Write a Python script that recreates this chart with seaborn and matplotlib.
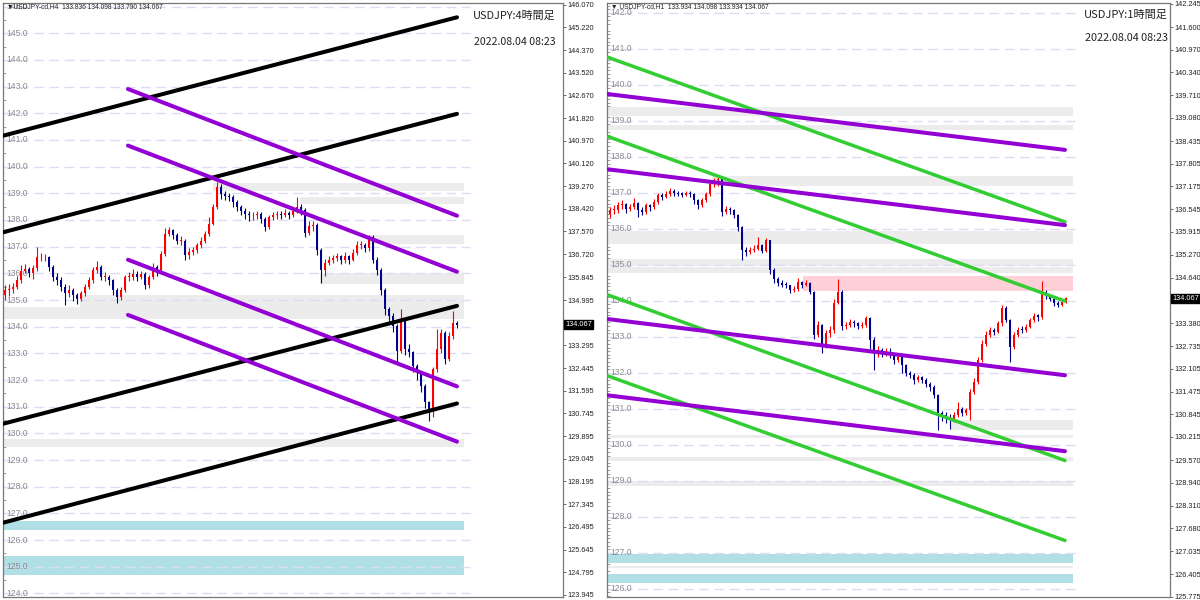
import numpy as np
import pandas as pd
import matplotlib
matplotlib.use("Agg")
import matplotlib.pyplot as plt
from matplotlib.ticker import MultipleLocator
import seaborn as sns

# ---------------- data : left panel (USDJPY H4) ----------------
L_first_open = 135.20
L_close = [
    135.37, 135.43, 135.50, 135.74, 136.10, 136.18, 136.00, 136.20, 136.60, 136.60,
    136.60, 136.24, 135.87, 135.75, 135.50, 135.25, 135.37, 135.18, 135.05, 135.25,
    135.50, 135.74, 136.11, 136.24, 135.87, 135.87, 135.74, 135.37, 135.12, 135.37,
    135.87, 135.87, 135.99, 135.87, 135.99, 135.56, 135.87, 136.24, 136.11, 136.74,
    137.48, 137.61, 137.42, 137.23, 137.23, 136.67, 136.80, 136.86, 137.05, 137.23,
    137.48, 137.86, 138.48, 139.22, 138.97, 138.91, 138.85, 138.66, 138.48, 138.35,
    138.23, 138.17, 138.17, 138.23, 138.04, 137.73, 138.10, 138.17, 138.23, 138.19,
    138.25, 138.19, 138.32, 138.50, 138.38, 137.51, 137.76, 137.82, 136.88, 136.14,
    136.39, 136.51, 136.57, 136.64, 136.51, 136.64, 136.51, 136.76, 137.07, 137.07,
    136.95, 137.38, 136.51, 136.14, 135.39, 134.65, 134.40, 134.02, 133.09, 134.20,
    133.15, 133.05, 132.53, 132.29, 131.79, 131.16, 130.85, 132.41, 133.15, 133.77,
    132.78, 133.65, 134.15, 134.07]
L_high = [
    135.55, 135.60, 135.62, 135.90, 136.30, 136.35, 136.25, 136.30, 137.00, 136.75,
    136.72, 136.65, 136.30, 136.00, 135.85, 135.60, 135.55, 135.45, 135.25, 135.35,
    135.60, 135.85, 136.25, 136.45, 136.30, 136.05, 135.95, 135.80, 135.45, 135.50,
    135.95, 136.05, 136.15, 136.10, 136.10, 136.05, 135.95, 136.40, 136.30, 136.85,
    137.70, 137.75, 137.68, 137.50, 137.40, 137.30, 136.95, 137.00, 137.15, 137.35,
    137.60, 138.10, 138.60, 139.42, 139.35, 139.10, 139.00, 138.95, 138.75, 138.55,
    138.45, 138.35, 138.30, 138.35, 138.30, 138.10, 138.20, 138.30, 138.35, 138.35,
    138.40, 138.35, 138.45, 138.87, 138.60, 138.45, 137.95, 137.95, 137.90, 136.95,
    136.55, 136.65, 136.70, 136.75, 136.70, 136.80, 136.70, 136.90, 137.20, 137.20,
    137.15, 137.45, 137.45, 136.60, 136.20, 135.45, 134.75, 134.50, 134.10, 134.65,
    134.30, 133.35, 133.10, 132.60, 132.35, 131.85, 131.20, 132.50, 133.90, 133.90,
    133.85, 133.80, 134.58, 134.20]
L_low = [
    135.00, 135.15, 135.28, 135.40, 135.65, 136.00, 135.85, 135.80, 136.10, 136.45,
    136.48, 136.10, 135.70, 135.55, 135.35, 134.80, 135.10, 134.95, 134.85, 134.95,
    135.15, 135.40, 135.65, 136.00, 135.75, 135.70, 135.55, 135.20, 134.90, 135.00,
    135.30, 135.70, 135.75, 135.70, 135.80, 135.40, 135.45, 135.80, 135.90, 136.05,
    136.65, 137.40, 137.30, 137.10, 137.05, 136.50, 136.55, 136.70, 136.75, 136.95,
    137.15, 137.40, 137.80, 138.40, 138.80, 138.75, 138.70, 138.50, 138.35, 138.20,
    138.05, 137.95, 138.00, 138.05, 137.90, 137.60, 137.65, 138.00, 138.05, 138.05,
    138.10, 138.05, 138.10, 138.25, 138.20, 137.35, 137.45, 137.60, 136.70, 135.64,
    135.90, 136.30, 136.40, 136.45, 136.35, 136.40, 136.35, 136.45, 136.70, 136.90,
    136.80, 136.85, 136.40, 135.95, 135.20, 134.45, 134.20, 133.80, 132.66, 133.00,
    132.95, 132.85, 132.30, 132.00, 131.55, 130.95, 130.48, 130.60, 132.30, 133.00,
    132.60, 132.70, 133.55, 133.95]

# zones (price low, price high, first bar, colour name)
L_band_lo = [139.10, 138.60, 137.10, 135.60, 134.75, 134.29, 129.49, 126.38, 124.69]
L_band_hi = [139.40, 138.87, 137.45, 136.00, 135.20, 134.73, 129.79, 126.72, 125.41]
L_band_start = [52, 73.75, 90.75, 78.75, 18.75, -0.5, -0.5, -0.5, -0.5]
L_band_kind = ["grey", "grey", "grey", "grey", "grey", "grey", "grey", "cyan", "cyan"]
L_band_end = 114.75

# trend lines (bar index / price at both ends)
L_line_x0 = [-1.25, -1.25, -1.25, -1.25, 30.75, 30.75, 30.75, 30.75]
L_line_x1 = [113, 113, 113, 113, 113, 113, 113, 113]
L_line_p0 = [141.13, 137.51, 130.33, 126.62, 142.91, 140.79, 136.51, 134.44]
L_line_p1 = [145.60, 141.98, 134.78, 131.12, 138.16, 136.06, 131.76, 129.69]
L_line_kind = ["black", "black", "black", "black", "purple", "purple", "purple", "purple"]

L_round_levels = list(range(124, 147))
L_axis_labels = ["146.070", "145.220", "144.370", "143.520", "142.670", "141.820",
                 "140.970", "140.120", "139.270", "138.420", "137.570", "136.720",
                 "135.845", "134.995", "133.295", "132.445", "131.595", "130.745",
                 "129.895", "129.045", "128.195", "127.345", "126.495", "125.645",
                 "124.795", "123.945"]

# ---------------- data : right panel (USDJPY H1) ----------------
R_first_open = 136.40
R_close = [
    136.51, 136.53, 136.65, 136.69, 136.56, 136.60, 136.71, 136.51, 136.46, 136.65,
    136.60, 136.74, 136.93, 136.88, 136.97, 137.06, 136.99, 136.97, 136.95, 136.99,
    136.97, 136.79, 136.65, 136.79, 136.97, 137.25, 137.34, 137.39, 136.46, 136.56,
    136.51, 136.37, 136.05, 135.40, 135.35, 135.42, 135.44, 135.54, 135.38, 135.68,
    134.84, 134.61, 134.49, 134.45, 134.43, 134.29, 134.33, 134.52, 134.43, 134.49,
    134.24, 133.05, 133.32, 132.75, 133.10, 133.20, 133.95, 134.25, 133.30, 133.32,
    133.42, 133.37, 133.30, 133.32, 133.51, 132.91, 132.54, 132.63, 132.54, 132.58,
    132.49, 132.35, 132.44, 132.21, 131.98, 131.94, 131.80, 131.89, 131.80, 131.69,
    131.61, 131.38, 130.87, 130.82, 130.78, 130.69, 130.82, 131.00, 130.87, 130.96,
    131.47, 131.75, 132.35, 132.81, 133.05, 133.19, 133.14, 133.37, 133.79, 133.46,
    132.72, 133.05, 133.20, 133.19, 133.28, 133.46, 133.57, 133.56, 134.25, 134.16,
    134.06, 133.93, 133.88, 133.97, 134.07]
R_high = [
    136.60, 136.65, 136.75, 136.80, 136.72, 136.70, 136.85, 136.75, 136.60, 136.72,
    136.70, 136.82, 137.00, 137.00, 137.05, 137.12, 137.10, 137.05, 137.03, 137.05,
    137.05, 137.00, 136.82, 136.85, 137.02, 137.35, 137.42, 137.48, 137.42, 136.62,
    136.60, 136.55, 136.40, 136.08, 135.50, 135.50, 135.55, 135.77, 135.58, 135.75,
    135.70, 134.90, 134.65, 134.58, 134.52, 134.45, 134.40, 134.62, 134.55, 134.58,
    134.52, 134.28, 133.45, 133.35, 133.20, 133.30, 134.05, 134.61, 134.30, 133.42,
    133.50, 133.46, 133.40, 133.40, 133.58, 133.55, 133.00, 132.75, 132.70, 132.68,
    132.68, 132.55, 132.52, 132.50, 132.25, 132.05, 131.98, 131.95, 131.92, 131.85,
    131.75, 131.65, 131.42, 130.95, 130.90, 130.85, 130.90, 131.18, 131.05, 131.02,
    131.55, 131.85, 132.45, 132.90, 133.15, 133.28, 133.25, 133.45, 133.88, 133.85,
    133.50, 133.12, 133.28, 133.30, 133.35, 133.52, 133.65, 133.62, 134.56, 134.30,
    134.20, 134.10, 134.00, 134.05, 134.10]
R_low = [
    136.30, 136.40, 136.45, 136.55, 136.45, 136.48, 136.55, 136.32, 136.38, 136.40,
    136.50, 136.55, 136.70, 136.80, 136.85, 136.92, 136.92, 136.90, 136.88, 136.90,
    136.88, 136.70, 136.56, 136.60, 136.75, 136.90, 137.15, 137.20, 136.35, 136.40,
    136.42, 136.30, 135.95, 135.12, 135.25, 135.30, 135.35, 135.40, 135.32, 135.35,
    134.75, 134.50, 134.40, 134.38, 134.35, 134.22, 134.25, 134.28, 134.35, 134.40,
    134.18, 132.95, 133.00, 132.55, 132.70, 133.00, 133.10, 133.90, 133.20, 133.22,
    133.28, 133.28, 133.22, 133.24, 133.28, 132.65, 132.07, 132.45, 132.45, 132.46,
    132.40, 132.25, 132.30, 132.00, 131.90, 131.85, 131.70, 131.75, 131.72, 131.60,
    131.50, 131.30, 130.41, 130.65, 130.60, 130.45, 130.62, 130.78, 130.80, 130.82,
    130.70, 131.40, 131.70, 132.30, 132.75, 133.00, 133.05, 133.10, 133.30, 133.40,
    132.31, 132.65, 133.00, 133.10, 133.12, 133.25, 133.40, 133.45, 133.50, 134.05,
    133.98, 133.85, 133.82, 133.85, 133.93]

R_band_lo = [139.14, 138.74, 137.19, 135.57, 134.96, 134.76, 134.27, 130.42, 130.19,
             129.55, 128.85, 126.71, 126.57, 126.17]
R_band_hi = [139.37, 138.88, 137.46, 135.94, 135.16, 134.93, 134.69, 130.68, 130.26,
             129.66, 128.99, 126.97, 126.64, 126.42]
R_band_start = [-0.5, -0.5, 25.5, -0.5, -0.5, -0.5, 48.25, 85, -0.5, -0.5, -0.5, -0.5,
                -0.5, -0.5]
R_band_kind = ["grey", "grey", "grey", "grey", "grey", "grey", "pink", "grey", "grey",
               "grey", "grey", "cyan", "grey", "cyan"]
R_band_end = 115.75

R_line_x0 = [-0.5] * 8
R_line_x1 = [113.75] * 8
R_line_p0 = [140.76, 139.74, 138.56, 137.65, 134.16, 133.49, 131.91, 131.37]
R_line_p1 = [136.19, 138.19, 133.99, 136.10, 129.56, 131.93, 127.34, 129.82]
R_line_kind = ["green", "purple", "green", "purple", "green", "purple", "green", "purple"]

R_round_levels = list(range(126, 143))
R_axis_labels = ["142.245", "141.600", "140.970", "140.340", "139.710", "139.080",
                 "138.435", "137.805", "137.175", "136.545", "135.915", "135.270",
                 "134.640", "133.380", "132.735", "132.105", "131.475", "130.845",
                 "130.215", "129.570", "128.940", "128.310", "127.680", "127.035",
                 "126.405", "125.775"]

last_price = 134.067

# ---------------- style ----------------
sns.set_theme(style="white")
plt.rcParams["font.family"] = ["Liberation Sans", "DejaVu Sans"]
plt.rcParams["lines.scale_dashes"] = False

BAND_COL = {"grey": "#ececec", "cyan": "#b0e0e6", "pink": "#ffd0d8"}
LINE_COL = {"black": "#000000", "purple": "#9400d3", "green": "#32cd32"}
LINE_W = {"black": 2.9, "purple": 2.9, "green": 2.5}
UP_COL, DN_COL = "#ff0000", "#00008b"
AX_FS = 5.3

W, H = 1200, 600
fig = plt.figure(figsize=(12, 6), dpi=100)
fig.patch.set_facecolor("white")


def rect(x0, x1, y0, y1):
    return [x0 / W, 1 - y1 / H, (x1 - x0) / W, (y1 - y0) / H]


def draw_panel(ax, first_open, close, high, low, xlim, ylim,
               b_lo, b_hi, b_start, b_kind, b_end,
               lx0, lx1, lp0, lp1, lkind,
               levels, level_end, axis_labels, minor_step):
    close = np.asarray(close)
    high = np.asarray(high)
    low = np.asarray(low)
    opens = np.concatenate([[first_open], close[:-1]])
    idx = np.arange(len(close))
    ax.set_xlim(*xlim)
    ax.set_ylim(*ylim)

    # zones
    for lo, hi, st, kd in zip(b_lo, b_hi, b_start, b_kind):
        ax.fill_between([st, b_end], lo, hi, color=BAND_COL[kd], lw=0, zorder=1)

    # round-number dashed levels and their labels
    ax.hlines(levels, xlim[0], level_end, colors="#dcdcf4", lw=1.0,
              linestyles=(0, (7, 4)), zorder=1.5)
    for lv in levels:
        ax.text(0.006, lv, f"{lv:.1f}", transform=ax.get_yaxis_transform(),
                ha="left", va="center", fontsize=6.2, color="#8a8a8a", zorder=2)

    # candles
    up = close >= opens
    cols = np.where(up, UP_COL, DN_COL)
    ax.vlines(idx, low, high, colors=cols, lw=0.8, zorder=3)
    body_lo = np.minimum(opens, close)
    body_h = np.maximum(np.abs(close - opens), 0.03)
    ax.bar(idx, body_h, bottom=body_lo, width=0.55, color=cols, lw=0, zorder=3.2)

    # trend lines (seaborn)
    for a, b, p, q, kd in zip(lx0, lx1, lp0, lp1, lkind):
        df = pd.DataFrame({"x": [a, b], "y": [p, q]})
        sns.lineplot(data=df, x="x", y="y", ax=ax, color=LINE_COL[kd],
                     lw=LINE_W[kd], solid_capstyle="round", sort=False,
                     legend=False, zorder=4)

    ax.set_xlabel("")
    ax.set_ylabel("")
    ax.set_xticks([])
    vals = [float(s) for s in axis_labels]
    ax.set_yticks(vals)
    ax.set_yticklabels(axis_labels)
    ax.yaxis.set_minor_locator(MultipleLocator(minor_step))
    ax.tick_params(axis="y", which="major", left=False, right=True,
                   labelleft=False, labelright=True, labelsize=AX_FS,
                   labelcolor="#222222", length=2.0, width=0.6,
                   color="#555555", pad=1.0, direction="out")
    ax.tick_params(axis="y", which="minor", left=True, right=False,
                   length=2.5, width=0.5, color="#777777", direction="in")
    for s in ax.spines.values():
        s.set_color("#777777")
        s.set_linewidth(0.9)
    ax.grid(False)
    # current price box
    ax.text(1.004, last_price, f"{last_price:.3f}", transform=ax.get_yaxis_transform(),
            ha="left", va="center", fontsize=AX_FS, color="white", zorder=10,
            bbox=dict(boxstyle="square,pad=0.15", fc="black", ec="black"),
            clip_on=False)


axL = fig.add_axes(rect(3, 563, 3, 597))
axR = fig.add_axes(rect(607, 1170, 3, 597))

draw_panel(axL, L_first_open, L_close, L_high, L_low, (-0.5, 139.5), (123.864, 146.136),
           L_band_lo, L_band_hi, L_band_start, L_band_kind, L_band_end,
           L_line_x0, L_line_x1, L_line_p0, L_line_p1, L_line_kind,
           L_round_levels, 116.25, L_axis_labels, 0.5)

draw_panel(axR, R_first_open, R_close, R_high, R_low, (-0.75, 140.0), (125.77, 142.27),
           R_band_lo, R_band_hi, R_band_start, R_band_kind, R_band_end,
           R_line_x0, R_line_x1, R_line_p0, R_line_p1, R_line_kind,
           R_round_levels, 117.5, R_axis_labels, 0.1)

# headers
def ftext(x, y, s, **kw):
    fig.text(x / W, 1 - y / H, s, **kw)

ftext(7, 7, "\u25bcUSDJPY-cd,H4  133.836 134.098 133.790 134.067", fontsize=4.8,
      color="#222222", va="center", ha="left")
ftext(611, 7, "\u25bc USDJPY-cd,H1  133.934 134.098 133.934 134.067", fontsize=4.8,
      color="#222222", va="center", ha="left")

jp = ["Noto Sans CJK JP", "DejaVu Sans"]
ftext(556, 16, "USDJPY:4時間足", fontsize=7.9, family=jp, color="#222222",
      ha="right", va="center")
ftext(556, 42, "2022.08.04 08:23", fontsize=7.6, family=jp, color="#222222",
      ha="right", va="center")
ftext(1168, 15, "USDJPY:1時間足", fontsize=8.0, family=jp, color="#222222",
      ha="right", va="center")
ftext(1168, 38, "2022.08.04 08:23", fontsize=7.8, family=jp, color="#222222",
      ha="right", va="center")

fig.savefig("out.png", dpi=100, facecolor="white")
